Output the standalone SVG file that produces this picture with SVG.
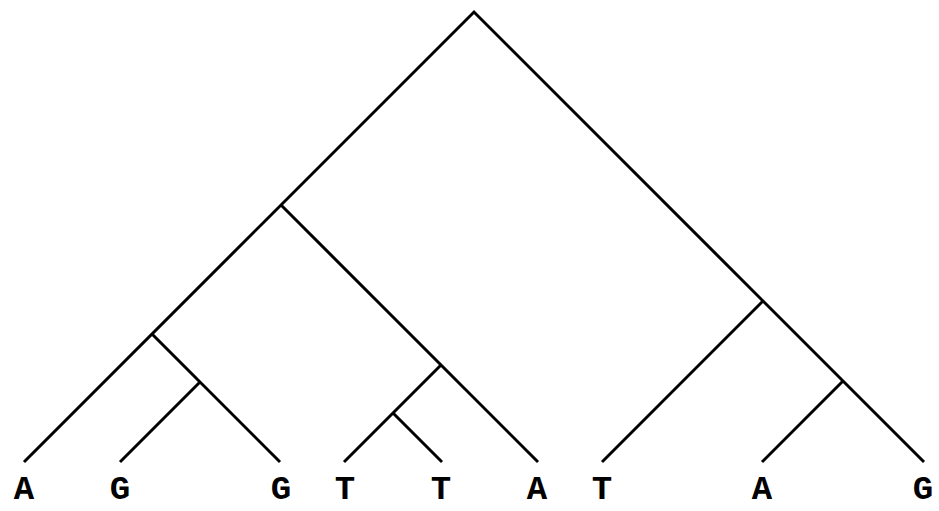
<svg xmlns="http://www.w3.org/2000/svg" width="939" height="511" viewBox="0 0 939 511">
<style>
.e{stroke:#000;stroke-width:3;fill:none;stroke-linecap:butt}
.l{font-family:"Liberation Mono","Courier New",monospace;font-weight:bold;font-size:34px;text-anchor:middle;fill:#000}
</style>
<rect width="939" height="511" fill="#fff"/>
<g id="connectors">
<path class="e" d="M24,462 L474,12 L924,462"/>
<path class="e" d="M281,205 L538,462"/>
<path class="e" d="M152,334 L280,462"/>
<path class="e" d="M200,382 L120,462"/>
<path class="e" d="M441,365 L344,462"/>
<path class="e" d="M393,413 L442,462"/>
<path class="e" d="M763,301 L602,462"/>
<path class="e" d="M843,381 L762,462"/>
</g>
<g id="leaf1"><text class="l" x="24" y="499">A</text></g>
<g id="leaf2"><text class="l" x="120" y="499">G</text></g>
<g id="leaf3"><text class="l" x="281" y="499">G</text></g>
<g id="leaf4"><text class="l" x="345" y="499">T</text></g>
<g id="leaf5"><text class="l" x="441" y="499">T</text></g>
<g id="leaf6"><text class="l" x="537" y="499">A</text></g>
<g id="leaf7"><text class="l" x="602" y="499">T</text></g>
<g id="leaf8"><text class="l" x="762" y="499">A</text></g>
<g id="leaf9"><text class="l" x="923" y="499">G</text></g>
</svg>
